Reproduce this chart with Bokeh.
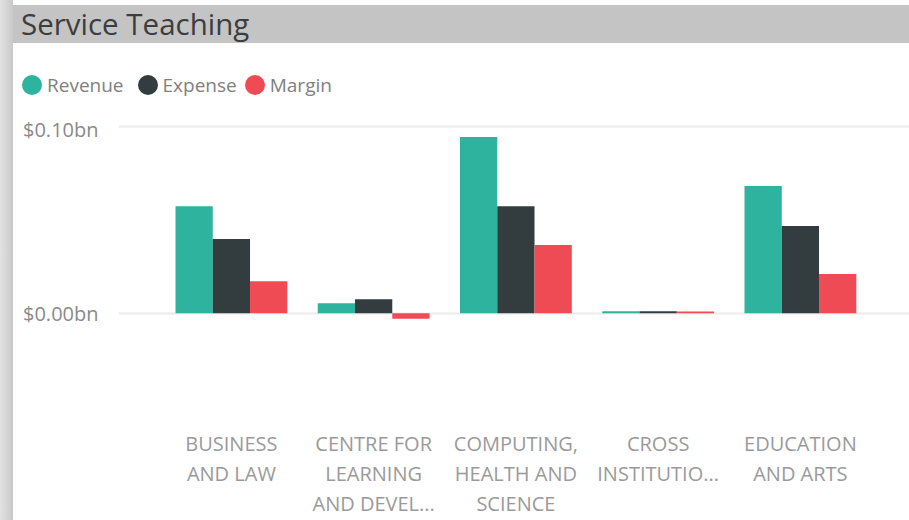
from bokeh.plotting import figure
from bokeh.models import (ColumnDataSource, Range1d, FixedTicker, PrintfTickFormatter, Div)
from bokeh.layouts import column
from bokeh.transform import dodge
from bokeh.embed import file_html
from bokeh.resources import INLINE

# ---------------- data ----------------
chart_title = "Service Teaching"
categories = ["BUSINESS AND LAW", "CENTRE FOR LEARNING AND DEVELOPMENT",
              "COMPUTING, HEALTH AND SCIENCE", "CROSS INSTITUTIONAL", "EDUCATION AND ARTS"]
tick_labels = ["BUSINESS\nAND LAW", "CENTRE FOR\nLEARNING\nAND DEVEL...",
               "COMPUTING,\nHEALTH AND\nSCIENCE", "CROSS\nINSTITUTIO...", "EDUCATION\nAND ARTS"]
revenue = [0.0575, 0.0054, 0.0946, 0.0011, 0.0683]   # $bn
expense = [0.0398, 0.0075, 0.0575, 0.0010, 0.0468]   # $bn
margin = [0.0172, -0.0030, 0.0366, 0.0009, 0.0210]   # $bn
y_ticks = [0.0, 0.1]
series = ["Revenue", "Expense", "Margin"]
colors = ["#2db39e", "#333d40", "#ef4b55"]

FONT = "Open Sans"
W = 909
legend_gaps = [14, 8, 0]   # px after each legend label (style only)

# ---------------- title bar ----------------
title_div = Div(
    text=('<div style="position:relative;width:%dpx;height:45px;">'
          '<div style="position:absolute;left:13px;top:5px;width:%dpx;height:38px;'
          'box-sizing:border-box;padding-left:8px;background:#c4c4c4;"></div>'
          '<div style="position:absolute;left:21px;top:1px;height:46px;line-height:46px;'
          'font-family:\'Open Sans\';font-size:29.5px;color:#3d3d3d;white-space:nowrap;">'
          '%s</div></div>') % (W, W - 13, chart_title),
    width=W, height=45, margin=0)

# ---------------- legend (circle swatch + label per series) ----------------
legend_items = "".join(
    ('<span style="display:inline-block;width:20px;height:20px;border-radius:50%%;'
     'background:%s;margin-right:5px;"></span>'
     '<span style="margin-right:%dpx;">%s</span>') % (c, g, s)
    for s, c, g in zip(series, colors, legend_gaps))
legend_div = Div(
    text=('<div style="display:flex;align-items:center;height:26px;margin-top:27px;'
          'padding-left:22px;font-family:\'Open Sans\';font-size:19px;color:#808080;'
          'white-space:nowrap;line-height:26px;">%s</div>') % legend_items,
    width=W, height=70, margin=0)

# ---------------- main chart ----------------
positions = list(range(len(categories)))
source = ColumnDataSource(data=dict(x=positions, Revenue=revenue, Expense=expense,
                                    Margin=margin, name=categories))

p = figure(width=W, height=405,
           x_range=Range1d(-0.7937, 4.767), y_range=Range1d(-0.0603, 0.10348),
           output_backend="svg", toolbar_location=None,
           min_border_left=118, min_border_right=0, min_border_top=5, min_border_bottom=94,
           border_fill_color=None, background_fill_color=None, outline_line_color=None)

bar_w = 0.262
offsets = [-bar_w, 0.0, bar_w]
for s, c, off in zip(series, colors, offsets):
    p.vbar(x=dodge("x", off, range=p.x_range), top=s, bottom=0, width=bar_w,
           source=source, fill_color=c, line_color=None)

p.xaxis.ticker = FixedTicker(ticks=positions)
p.xaxis.major_label_overrides = {i: t for i, t in zip(positions, tick_labels)}
p.xaxis.axis_line_color = None
p.xaxis.major_tick_line_color = None
p.xaxis.minor_tick_line_color = None
p.xaxis.major_tick_in = 0
p.xaxis.major_tick_out = 0
p.xaxis.major_label_standoff = 4
p.xaxis.major_label_text_font = FONT
p.xaxis.major_label_text_font_size = "20px"
p.xaxis.major_label_text_color = "#9a9a9a"
p.xaxis.major_label_text_line_height = 1.128

p.yaxis.ticker = FixedTicker(ticks=y_ticks)
p.yaxis.formatter = PrintfTickFormatter(format="$%.2fbn")
p.yaxis.axis_line_color = None
p.yaxis.major_tick_line_color = None
p.yaxis.minor_tick_line_color = None
p.yaxis.major_tick_in = 0
p.yaxis.major_tick_out = 0
p.yaxis.major_label_standoff = 20
p.yaxis.major_label_text_font = FONT
p.yaxis.major_label_text_font_size = "20px"
p.yaxis.major_label_text_color = "#8a8a8a"

p.xgrid.grid_line_color = None
p.ygrid.ticker = FixedTicker(ticks=y_ticks)
p.ygrid.grid_line_color = "#ebebeb"
p.ygrid.grid_line_width = 2

layout = column(title_div, legend_div, p, spacing=0,
                styles={"background": "linear-gradient(to right,#e2e2e2 0px,#c9c9c9 13px,#ffffff 13px)"})

open("out.html", "w").write(file_html(layout, INLINE))
